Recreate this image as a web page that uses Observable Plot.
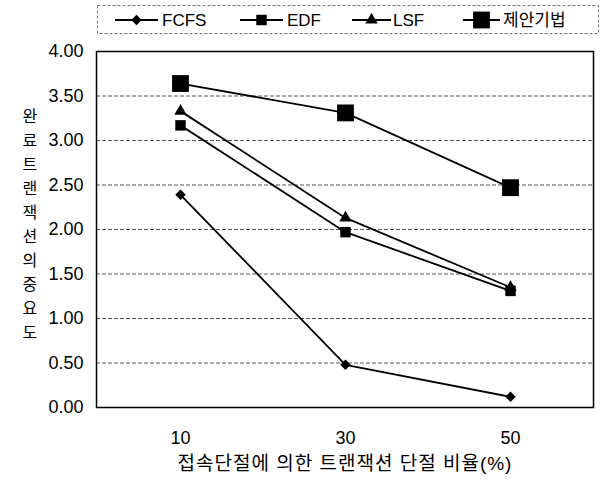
<!DOCTYPE html>
<html>
<head>
<meta charset="utf-8">
<script src="https://cdn.jsdelivr.net/npm/d3@7"></script>
<script src="https://cdn.jsdelivr.net/npm/@observablehq/plot@0.6"></script>
<style>
  html, body { margin: 0; padding: 0; background: #fff; }
  body { width: 607px; height: 480px; overflow: hidden; font-family: "Liberation Sans", "Noto Sans CJK KR", sans-serif; }
  #legend { position: relative; width: 607px; height: 40px; }
  #chart svg { display: block; }
</style>
</head>
<body>
<div id="legend"></div>
<div id="chart"></div>
<script>
// ---- data ----
const xLabels = ["10", "30", "50"];
const seriesNames = ["FCFS", "EDF", "LSF", "제안기법"];
const fcfs = [2.39, 0.48, 0.12];
const edf = [3.17, 1.97, 1.31];
const lsf = [3.33, 2.13, 1.35];
const proposed = [3.64, 3.31, 2.47];
const yTicks = [0, 0.5, 1, 1.5, 2, 2.5, 3, 3.5, 4];
const xTitle = "접속단절에 의한 트랜잭션 단절 비율(%)";
const yTitle = "완료트랜잭션의중요도";

// rotated-square diamond symbol
const diamondSq = {
  draw(context, size) {
    const h = Math.sqrt(size / 2);
    context.moveTo(0, -h);
    context.lineTo(h, 0);
    context.lineTo(0, h);
    context.lineTo(-h, 0);
    context.closePath();
  }
};

// styling per series (not data)
const seriesStyle = {
  "FCFS": {symbol: diamondSq, r: 4.2},
  "EDF": {symbol: d3.symbolSquare, r: 5.9},
  "LSF": {symbol: d3.symbolTriangle, r: 4.6},
  "제안기법": {symbol: d3.symbolSquare, r: 9.5}
};

const seriesValues = [fcfs, edf, lsf, proposed];
const rows = [];
seriesNames.forEach((s, i) => {
  xLabels.forEach((x, j) => rows.push({series: s, x, y: seriesValues[i][j]}));
});

const font = "'Liberation Sans', 'Noto Sans CJK KR', sans-serif";

const marks = [
  Plot.gridY(yTicks, {stroke: "#444", strokeOpacity: 0.9, strokeDasharray: "4,2", strokeWidth: 1}),
  Plot.frame({stroke: "#000", strokeWidth: 1.5}),
  Plot.axisY({ticks: yTicks, tickFormat: d => d.toFixed(2), tickSize: 0, tickPadding: 13, fontSize: 18, label: null}),
  Plot.axisX({tickSize: 0, tickPadding: 24, fontSize: 18, label: null}),
  Plot.line(rows, {x: "x", y: "y", z: "series", stroke: "#000", strokeWidth: 1.8}),
  ...seriesNames.map(s => Plot.dot(rows.filter(d => d.series === s), {
    x: "x", y: "y", symbol: seriesStyle[s].symbol, r: seriesStyle[s].r, fill: "#000", stroke: "none"
  })),
  Plot.text([xTitle], {text: d => d, frameAnchor: "bottom", dy: 62, fontSize: 19, fill: "#000"}),
  Plot.text([yTitle.split("").join("\n")], {text: d => d, frameAnchor: "left", dx: -74, dy: -7, fontSize: 16, lineHeight: 1.5, fill: "#000"})
];

const chart = Plot.plot({
  width: 607,
  height: 440,
  marginTop: 11,
  marginBottom: 73,
  marginLeft: 96,
  marginRight: 14,
  style: {fontFamily: font, color: "#000", background: "#fff"},
  x: {type: "point", domain: xLabels, padding: 0.5},
  y: {domain: [0, 4]},
  marks
});
document.getElementById("chart").appendChild(chart);
d3.select(chart).selectAll("text").filter(function() { return this.textContent.startsWith("접속"); })
  .attr("letter-spacing", "1px");

// ---- legend ----
const legendItems = [
  {name: "FCFS", x0: 115, x1: 158, tx: 162},
  {name: "EDF", x0: 240, x1: 283, tx: 287},
  {name: "LSF", x0: 352, x1: 391, tx: 393},
  {name: "제안기법", x0: 463, x1: 500, tx: 503}
];
const lsvg = d3.select("#legend").append("svg").attr("width", 607).attr("height", 40);
lsvg.append("rect").attr("x", 97.5).attr("y", 5.5).attr("width", 501).attr("height", 28)
  .attr("fill", "none").attr("stroke", "#777").attr("stroke-dasharray", "3,2");
legendItems.forEach(it => {
  const st = seriesStyle[it.name];
  const g = lsvg.append("g");
  g.append("line").attr("x1", it.x0).attr("x2", it.x1).attr("y1", 20).attr("y2", 20).attr("stroke", "#000").attr("stroke-width", 1.8);
  g.append("path").attr("transform", `translate(${(it.x0 + it.x1) / 2},20)`)
    .attr("d", d3.symbol(st.symbol, Math.PI * st.r * st.r)()).attr("fill", "#000");
  g.append("text").attr("x", it.tx).attr("y", 20).attr("dy", "0.35em").attr("font-size", 17)
    .attr("font-family", font).attr("fill", "#000").text(it.name);
});
</script>
</body>
</html>
